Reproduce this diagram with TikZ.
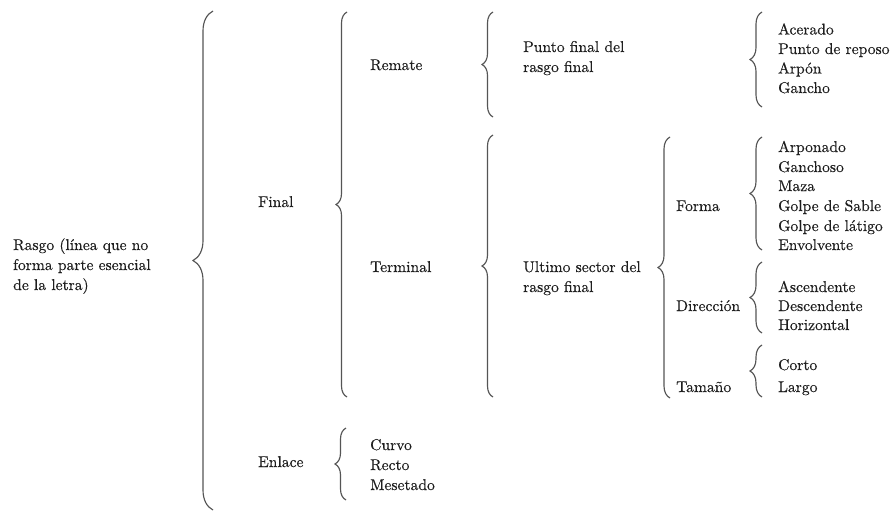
\documentclass[tikz,border=0pt]{standalone}
\usepackage{fontspec}
\setmainfont{lmroman10-regular.otf}[UprightFeatures={FakeBold=0.35}]
\usetikzlibrary{decorations.pathreplacing}
\definecolor{ink}{HTML}{1E1E1E}
\definecolor{bracecol}{HTML}{555555}
\begin{document}
\begin{tikzpicture}[x=1pt,y=-1pt,
  lbl/.style={anchor=base west, inner sep=0pt, font=\fontsize{15.6}{20}\selectfont, text=ink},
  bracepath/.style={draw=bracecol, line width=1.15pt, decorate, decoration={brace, amplitude=#1}},
  bracepath/.default=11]
\useasboundingbox[fill=white] (0,0) rectangle (893,512);

% level 0
\node[lbl] (rasgoA) at (13,250) {Rasgo (línea que no};
\node[lbl] (rasgoB) at (13,270) {forma parte esencial};
\node[lbl] (rasgoC) at (13,290) {de la letra)};
\draw[bracepath=20] (213,510) -- (213,11);

% level 1
\node[lbl] (final) at (258,207) {Final};
\node[lbl] (enlace) at (258,467) {Enlace};
\draw[bracepath] (347,397) -- (347,12);
\draw[bracepath] (346,500) -- (346,428);

% level 2
\node[lbl] (remate) at (370,70) {Remate};
\node[lbl] (terminal) at (370,272) {Terminal};
\node[lbl] (curvo) at (370,450) {Curvo};
\node[lbl] (recto) at (370,470) {Recto};
\node[lbl] (mesetado) at (370,490) {Mesetado};
\draw[bracepath] (493,117) -- (493,12);
\draw[bracepath] (493,397) -- (493,135);

% level 3
\node[lbl] (puntoA) at (523,52) {Punto final del};
\node[lbl] (puntoB) at (523,72) {rasgo final};
\node[lbl] (ultimoA) at (523,272) {Ultimo sector del};
\node[lbl] (ultimoB) at (523,292) {rasgo final};
\draw[bracepath=12] (670,398) -- (670,137);

% level 4
\node[lbl] (forma) at (676,211) {Forma};
\node[lbl] (direccion) at (676,311) {Dirección};
\node[lbl] (tamano) at (676,392) {Tamaño};

% leaf braces
\draw[bracepath=12] (762,107) -- (762,12);
\draw[bracepath=12] (762,250) -- (762,137);
\draw[bracepath=12] (762,333) -- (762,262);
\draw[bracepath=12] (762,397) -- (762,345);

% leaves
\node[lbl] (acerado) at (778,34.5) {Acerado};
\node[lbl] (reposo) at (778,54) {Punto de reposo};
\node[lbl] (arpon) at (778,73.5) {Arpón};
\node[lbl] (gancho) at (778,93) {Gancho};

\node[lbl] (arponado) at (778,152) {Arponado};
\node[lbl] (ganchoso) at (778,172) {Ganchoso};
\node[lbl] (maza) at (778,191) {Maza};
\node[lbl] (sable) at (778,211) {Golpe de Sable};
\node[lbl] (latigo) at (778,231) {Golpe de látigo};
\node[lbl] (envolvente) at (778,250) {Envolvente};

\node[lbl] (ascendente) at (778,292) {Ascendente};
\node[lbl] (descendente) at (778,311) {Descendente};
\node[lbl] (horizontal) at (778,330) {Horizontal};

\node[lbl] (corto) at (778,370) {Corto};
\node[lbl] (largo) at (778,392) {Largo};
\end{tikzpicture}
\end{document}
